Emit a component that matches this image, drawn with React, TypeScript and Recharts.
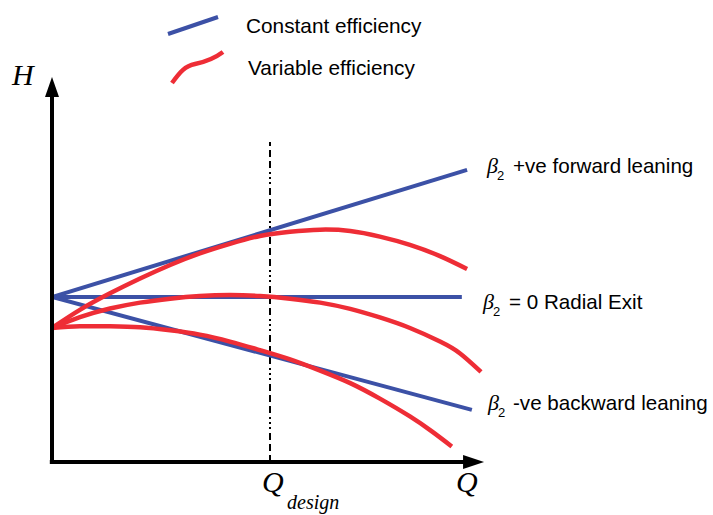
import React from 'react';
import { ComposedChart, Line, XAxis, YAxis, ReferenceLine, ReferenceDot } from 'recharts';

// Q (flow) vs H (head), schematic units: Q 0..10 (design at 5), H 0..12
const forwardBlue = [
  { q: 0, h: 5.0 },
  { q: 9.52, h: 8.85 },
];
const radialBlue = [
  { q: 0, h: 5.0 },
  { q: 9.4, h: 5.0 },
];
const backwardBlue = [
  { q: 0, h: 5.0 },
  { q: 9.63, h: 1.58 },
];

const forwardRed = [
  { q: 0, h: 4.06 },
  { q: 0.64, h: 4.61 },
  { q: 1.33, h: 5.11 },
  { q: 2.02, h: 5.56 },
  { q: 2.71, h: 5.97 },
  { q: 3.39, h: 6.32 },
  { q: 4.08, h: 6.61 },
  { q: 4.77, h: 6.85 },
  { q: 5.46, h: 6.98 },
  { q: 6.15, h: 7.04 },
  { q: 6.84, h: 7.0 },
  { q: 7.52, h: 6.83 },
  { q: 8.21, h: 6.58 },
  { q: 8.9, h: 6.24 },
  { q: 9.52, h: 5.85 },
];
const radialRed = [
  { q: 0, h: 4.06 },
  { q: 0.64, h: 4.39 },
  { q: 1.33, h: 4.65 },
  { q: 2.02, h: 4.83 },
  { q: 2.71, h: 4.95 },
  { q: 3.39, h: 5.03 },
  { q: 4.08, h: 5.06 },
  { q: 4.77, h: 5.03 },
  { q: 5.46, h: 4.95 },
  { q: 6.15, h: 4.83 },
  { q: 6.84, h: 4.64 },
  { q: 7.52, h: 4.38 },
  { q: 8.21, h: 4.06 },
  { q: 8.9, h: 3.65 },
  { q: 9.36, h: 3.29 },
  { q: 9.84, h: 2.73 },
];
const backwardRed = [
  { q: 0, h: 4.06 },
  { q: 0.64, h: 4.11 },
  { q: 1.33, h: 4.11 },
  { q: 2.02, h: 4.08 },
  { q: 2.71, h: 3.99 },
  { q: 3.39, h: 3.86 },
  { q: 4.08, h: 3.65 },
  { q: 4.77, h: 3.39 },
  { q: 5.46, h: 3.11 },
  { q: 6.15, h: 2.77 },
  { q: 6.84, h: 2.39 },
  { q: 7.52, h: 1.92 },
  { q: 8.21, h: 1.38 },
  { q: 8.72, h: 0.92 },
  { q: 9.17, h: 0.47 },
];

const qDesign = 5;
const qAxisEnd = 9.91;
const hAxisEnd = 11.67;

const BLUE = '#3c51a6';
const RED = '#ee2d36';
const SANS = '"Liberation Sans", Arial, sans-serif';
const SERIF = '"Liberation Serif", "Times New Roman", serif';

const ArrowRight = (props: any) => (
  <polygon points={`${props.cx},${props.cy} ${props.cx - 21},${props.cy - 7} ${props.cx - 21},${props.cy + 7}`} fill="#000" />
);
const ArrowUp = (props: any) => (
  <polygon points={`${props.cx},${props.cy} ${props.cx - 7},${props.cy + 20} ${props.cx + 7},${props.cy + 20}`} fill="#000" />
);

function Beta({ x, y, sx }: { x: number; y: number; sx: number }) {
  return (
    <>
      <text x={x} y={y} fontFamily={SERIF} fontStyle="italic" fontSize={22}>β</text>
      <text x={sx} y={y + 7} fontFamily={SANS} fontSize={13}>2</text>
    </>
  );
}

export default function App() {
  return (
    <div style={{ position: 'absolute', left: 0, top: 0, width: 713, height: 515, background: '#fff' }}>
      <ComposedChart width={713} height={515} margin={{ top: 66, right: 225, bottom: 53, left: 52 }}>
        <XAxis type="number" dataKey="q" domain={[0, 10]} allowDataOverflow hide />
        <YAxis type="number" dataKey="h" domain={[0, 12]} allowDataOverflow hide />

        <ReferenceLine
          segment={[{ x: qDesign, y: 0 }, { x: qDesign, y: 9.7 }]}
          stroke="#000"
          strokeWidth={2}
          strokeDasharray="7 4 7 4 7 4 2 3 2 3 2 4"
          ifOverflow="visible"
        />

        <Line data={forwardBlue} dataKey="h" type="linear" stroke={BLUE} strokeWidth={4} dot={false} activeDot={false} isAnimationActive={false} />
        <Line data={radialBlue} dataKey="h" type="linear" stroke={BLUE} strokeWidth={4} dot={false} activeDot={false} isAnimationActive={false} />
        <Line data={backwardBlue} dataKey="h" type="linear" stroke={BLUE} strokeWidth={4} dot={false} activeDot={false} isAnimationActive={false} />
        <Line data={forwardRed} dataKey="h" type="natural" stroke={RED} strokeWidth={4.5} dot={false} activeDot={false} isAnimationActive={false} />
        <Line data={radialRed} dataKey="h" type="natural" stroke={RED} strokeWidth={4.5} dot={false} activeDot={false} isAnimationActive={false} />
        <Line data={backwardRed} dataKey="h" type="natural" stroke={RED} strokeWidth={4.5} dot={false} activeDot={false} isAnimationActive={false} />

        <ReferenceLine segment={[{ x: -0.05, y: 0 }, { x: 9.5, y: 0 }]} stroke="#000" strokeWidth={4} ifOverflow="visible" />
        <ReferenceLine segment={[{ x: 0, y: -0.06 }, { x: 0, y: 11.1 }]} stroke="#000" strokeWidth={4} ifOverflow="visible" />
        <ReferenceDot x={qAxisEnd} y={0} r={1} shape={ArrowRight} ifOverflow="visible" />
        <ReferenceDot x={0} y={hAxisEnd} r={1} shape={ArrowUp} ifOverflow="visible" />
      </ComposedChart>

      <svg width={713} height={515} style={{ position: 'absolute', left: 0, top: 0, pointerEvents: 'none' }}>
        {/* legend */}
        <line x1={168} y1={34} x2={218} y2={17} stroke={BLUE} strokeWidth={4} />
        <path d="M172,83 C180,72 185,66 195,64 S215,58 223,52" fill="none" stroke={RED} strokeWidth={4.5} />
        <text x={246} y={33} fontFamily={SANS} fontSize={20.8}>Constant efficiency</text>
        <text x={248} y={75} fontFamily={SANS} fontSize={20.8}>Variable efficiency</text>

        {/* curve labels */}
        <Beta x={487} y={173} sx={497} />
        <text x={513} y={173} fontFamily={SANS} fontSize={20.6}>+ve forward leaning</text>
        <Beta x={483} y={309} sx={493} />
        <text x={509} y={309} fontFamily={SANS} fontSize={20.6}>= 0 Radial Exit</text>
        <Beta x={488} y={410} sx={498} />
        <text x={513} y={410} fontFamily={SANS} fontSize={20.6}>-ve backward leaning</text>

        {/* axis titles */}
        <text x={12} y={85} fontFamily={SERIF} fontStyle="italic" fontSize={30}>H</text>
        <text x={262} y={492} fontFamily={SERIF} fontStyle="italic" fontSize={30}>Q</text>
        <text x={287} y={509} fontFamily={SERIF} fontStyle="italic" fontSize={20}>design</text>
        <text x={456} y={492} fontFamily={SERIF} fontStyle="italic" fontSize={30}>Q</text>
      </svg>
    </div>
  );
}
